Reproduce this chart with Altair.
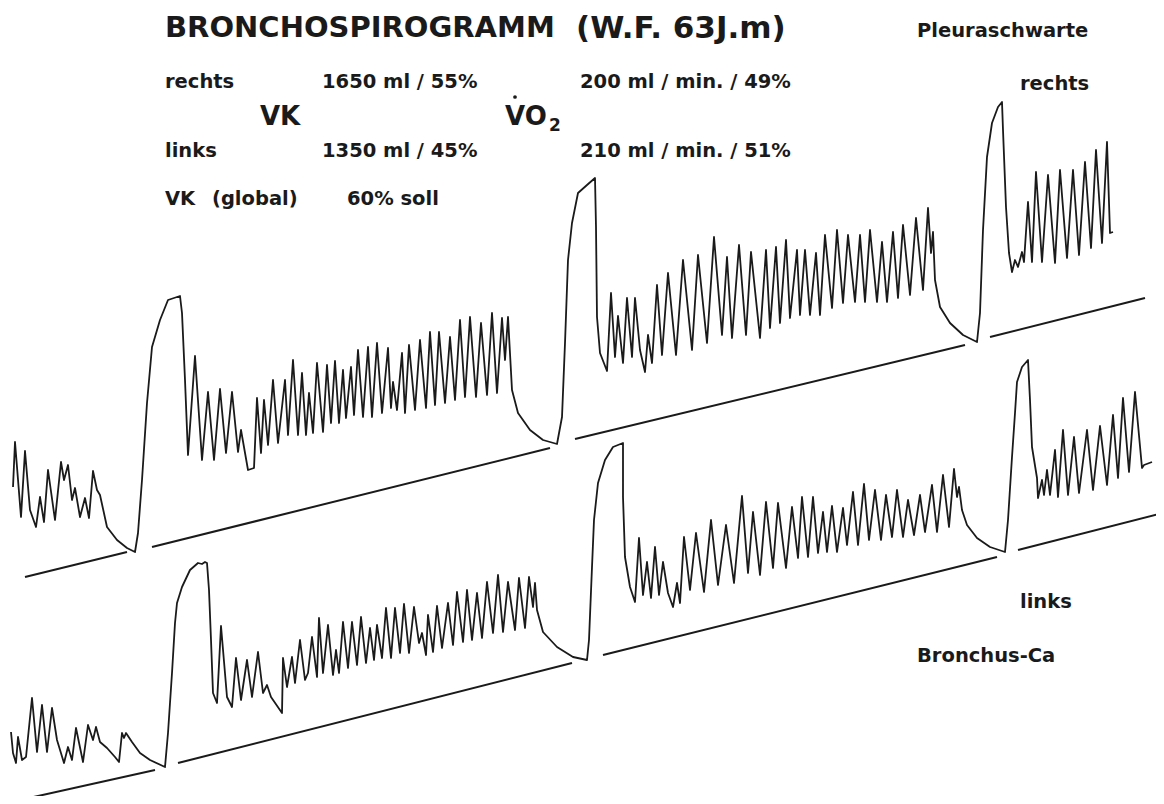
import altair as alt
import pandas as pd

# ---- upper trace "rechts" (page-pixel coordinates) ----
R_REST = [(13,487),(15,442),(21,517),(25,451),(30,510),(36,527),(40,497),(44,522),(48,470),(55,520),
          (61,462),(64,480),(68,465),(72,500),(75,488),(80,517),(85,498),(89,518),(93,471),(97,490),(100,495)]
R_VK1 = [(107,527),(117,540),(127,548),(135,552),(138,533),(142,480),(147,403),(152,347),(160,320),
         (168,300),(180,296),(182,313),(185,380),(188,455)]
R_TID2 = [(195,356),(202,460),(208,392),(214,460),(220,389),(226,453),(232,392),(238,452),(241,430),(248,470),
          (254,468),(257,398),(261,453),(264,400),(268,445),(273,380),(278,443),(285,380),(288,435),(293,360),
          (298,435),(302,373),(306,435),(309,393),(313,433),(317,363),(323,432),(327,365),(331,423),(335,361),
          (339,423),(343,370),(346,418),(351,367),(354,415),(358,350),(363,417),(368,347),(372,417),(377,343),
          (382,413),(388,348),(391,408),(393,382),(397,410),(402,353),(405,413),(409,345),(415,410),(420,340),
          (426,408),(430,332),(435,405),(439,332),(445,403),(450,337),(455,400),(460,320),(465,397),(470,317),
          (476,397),(481,323),(487,395),(492,313),(497,393),(502,318),(505,360),(508,317),(512,390)]
R_VK2 = [(518,413),(530,430),(543,440),(557,444),(562,417),(565,343),(568,260),(572,223),(578,193),(587,185),
         (595,178),(596,227),(597,317),(600,353),(607,371)]
R_TID3 = [(611,293),(615,357),(618,316),(623,363),(627,298),(632,357),(635,298),(640,350),(645,372),(648,335),
          (652,363),(657,285),(662,355),(668,273),(676,355),(683,260),(692,350),(698,255),(707,343),(714,237),
          (722,335),(727,257),(732,338),(739,245),(746,335),(751,252),(760,338),(766,250),(770,328),(776,247),
          (780,323),(786,240),(790,318),(797,250),(800,315),(805,250),(810,315),(816,253),(820,315),(825,235),
          (832,308),(837,230),(843,303),(848,235),(855,302),(860,235),(865,302),(870,230),(877,302),(882,242),
          (887,302),(893,232),(898,298),(903,225),(910,295),(916,218),(923,290),(928,208),(931,253),(933,232),
          (935,280)]
R_VK3 = [(940,307),(950,323),(963,335),(977,342),(980,313),(983,230),(987,157),(992,123),(998,107),(1002,102),
         (1003,130),(1006,207),(1009,253),(1012,272)]
R_TID4 = [(1015,260),(1018,267),(1022,252),(1024,262),(1028,202),(1032,262),(1036,172),(1042,262),(1048,175),
          (1055,263),(1060,170),(1067,258),(1073,170),(1079,255),(1085,162),(1091,248),(1096,150),(1102,243),
          (1107,142),(1110,233),(1113,232)]

# ---- lower trace "links" ----
L_REST = [(11,732),(13,753),(16,763),(18,737),(22,760),(26,757),(32,698),(37,752),(42,705),(47,752),(52,708),
          (57,740),(64,763),(68,747),(72,760),(76,728),(83,762),(88,725),(93,740),(96,727),(100,742),(107,748),
          (115,757),(119,762),(122,733),(124,738),(126,733)]
L_VK1 = [(132,742),(140,753),(150,760),(165,767),(168,733),(172,673),(175,623),(177,603),(182,587),(190,570),
         (198,563),(202,564),(205,562),(207,563),(209,590),(211,640),(213,693),(217,703)]
L_TID2 = [(221,626),(227,697),(232,707),(236,658),(241,700),(247,660),(252,697),(258,652),(263,693),(267,685),
          (271,697),(282,713),(283,658),(287,687),(292,657),(295,683),(300,640),(305,680),(308,673),(312,637),
          (317,677),(319,618),(323,673),(328,625),(333,675),(336,650),(339,673),(343,622),(348,668),(352,622),
          (357,665),(361,617),(366,663),(370,628),(374,660),(377,625),(382,658),(386,608),(391,658),(395,608),
          (400,653),(404,604),(409,653),(414,607),(419,643),(422,633),(426,655),(428,615),(433,652),(437,606),
          (442,648),(448,603),(453,645),(457,592),(463,642),(467,590),(472,640),(477,593),(482,638),(487,582),
          (493,633),(498,575),(503,632),(508,582),(515,630),(519,578),(525,628),(529,577),(533,607),(535,583),
          (537,610)]
L_VK2 = [(543,632),(557,647),(573,657),(587,660),(589,640),(592,567),(594,520),(598,483),(605,460),(613,447),
         (623,443),(623,497),(625,557),(630,587),(635,602)]
L_TID3 = [(639,538),(643,595),(647,562),(651,598),(655,547),(659,595),(663,562),(668,593),(673,607),(677,583),
          (680,603),(684,537),(690,590),(696,533),(704,592),(711,520),(718,585),(726,525),(734,583),(742,496),
          (748,573),(753,512),(760,575),(766,502),(773,568),(778,503),(786,568),(792,507),(798,558),(802,497),
          (808,557),(813,497),(818,553),(823,512),(827,552),(832,506),(837,552),(843,508),(847,545),(853,492),
          (858,545),(864,484),(869,540),(875,490),(881,540),(886,495),(892,537),(897,490),(903,537),(908,500),
          (914,535),(920,495),(925,532),(932,485),(937,532),(943,475),(949,527),(954,469),(957,497),(959,487),
          (962,510)]
L_VK3 = [(967,525),(977,538),(990,547),(1005,552),(1008,520),(1012,457),(1015,413),(1017,382),(1022,367),
         (1028,360),(1030,400),(1032,447),(1037,478)]
L_TID4 = [(1038,498),(1042,480),(1044,495),(1047,470),(1050,495),(1055,450),(1058,497),(1063,430),(1068,495),
          (1074,437),(1079,493),(1087,430),(1093,490),(1100,426),(1107,485),(1113,415),(1118,478),(1123,398),
          (1129,472),(1135,392),(1142,468),(1144,465),(1152,462)]

# ---- slanted zero lines ----
BASELINES = [
    [(25,577),(127,552)], [(152,547),(550,448)], [(575,439),(965,345)], [(990,337),(1145,298)],
    [(20,800),(155,770)], [(178,763),(572,663)], [(603,655),(997,557)], [(1018,550),(1163,513)],
]

# ---- texts ----
TITLE = [("BRONCHOSPIROGRAMM", 165, 37)]
TITLE2 = [("(W.F. 63J.m)", 576, 38)]
LABELS = [("rechts", 165, 88), ("1650 ml / 55%", 322, 88), ("200 ml / min. / 49%", 580, 88),
          ("links", 165, 157), ("1350 ml / 45%", 322, 157), ("210 ml / min. / 51%", 580, 157),
          ("VK", 165, 205), ("(global)", 212, 205), ("60% soll", 347, 205),
          ("Pleuraschwarte", 917, 37), ("rechts", 1020, 90),
          ("links", 1020, 608), ("Bronchus-Ca", 917, 662)]
BIG = [("VK", 260, 125), ("VO", 505, 125)]
SUB = [("2", 549, 131)]
DOT = [(515, 97)]

rows = []
for name, seg in [("R", R_REST + R_VK1 + R_TID2 + R_VK2 + R_TID3 + R_VK3 + R_TID4),
                  ("L", L_REST + L_VK1 + L_TID2 + L_VK2 + L_TID3 + L_VK3 + L_TID4)]:
    for i, (x, y) in enumerate(seg):
        rows.append({"x": x, "y": y, "s": name, "i": i})
traces = pd.DataFrame(rows)

brows = []
for k, seg in enumerate(BASELINES):
    for i, (x, y) in enumerate(seg):
        brows.append({"x": x, "y": y, "s": f"b{k}", "i": i})
bases = pd.DataFrame(brows)

def tdf(items):
    return pd.DataFrame([{"t": t, "x": x, "y": y} for t, x, y in items])

X = alt.X("x:Q", scale=alt.Scale(domain=[8, 1156]), axis=None)
Y = alt.Y("y:Q", scale=alt.Scale(domain=[8, 796], reverse=True), axis=None)
INK = "#1a1a1a"
FONT = "DejaVu Sans"

trace_layer = alt.Chart(traces).mark_line(color=INK, strokeWidth=1.8, strokeJoin="round").encode(
    x=X, y=Y, detail="s:N", order="i:Q")
base_layer = alt.Chart(bases).mark_line(color=INK, strokeWidth=2).encode(
    x=X, y=Y, detail="s:N", order="i:Q")

def text_layer(items, size, weight="bold"):
    return alt.Chart(tdf(items)).mark_text(
        align="left", baseline="alphabetic", font=FONT, fontSize=size,
        fontWeight=weight, color=INK).encode(x=X, y=Y, text="t:N")

title_layer = text_layer(TITLE, 29)
title2_layer = text_layer(TITLE2, 31)
label_layer = text_layer(LABELS, 19.5)
big_layer = text_layer(BIG, 26)
sub_layer = text_layer(SUB, 17)
dot_layer = alt.Chart(pd.DataFrame([{"x": x, "y": y} for x, y in DOT])).mark_circle(
    color=INK, size=14, opacity=1).encode(x=X, y=Y)

chart = alt.layer(base_layer, trace_layer, title_layer, title2_layer, label_layer, big_layer, sub_layer,
                  dot_layer).properties(
    width=1148, height=788, padding=0, autosize=alt.AutoSizeParams(type="none"), background="white"
).configure_view(stroke=None)

chart.save("out.html", embed_options={"renderer": "svg", "actions": False})
